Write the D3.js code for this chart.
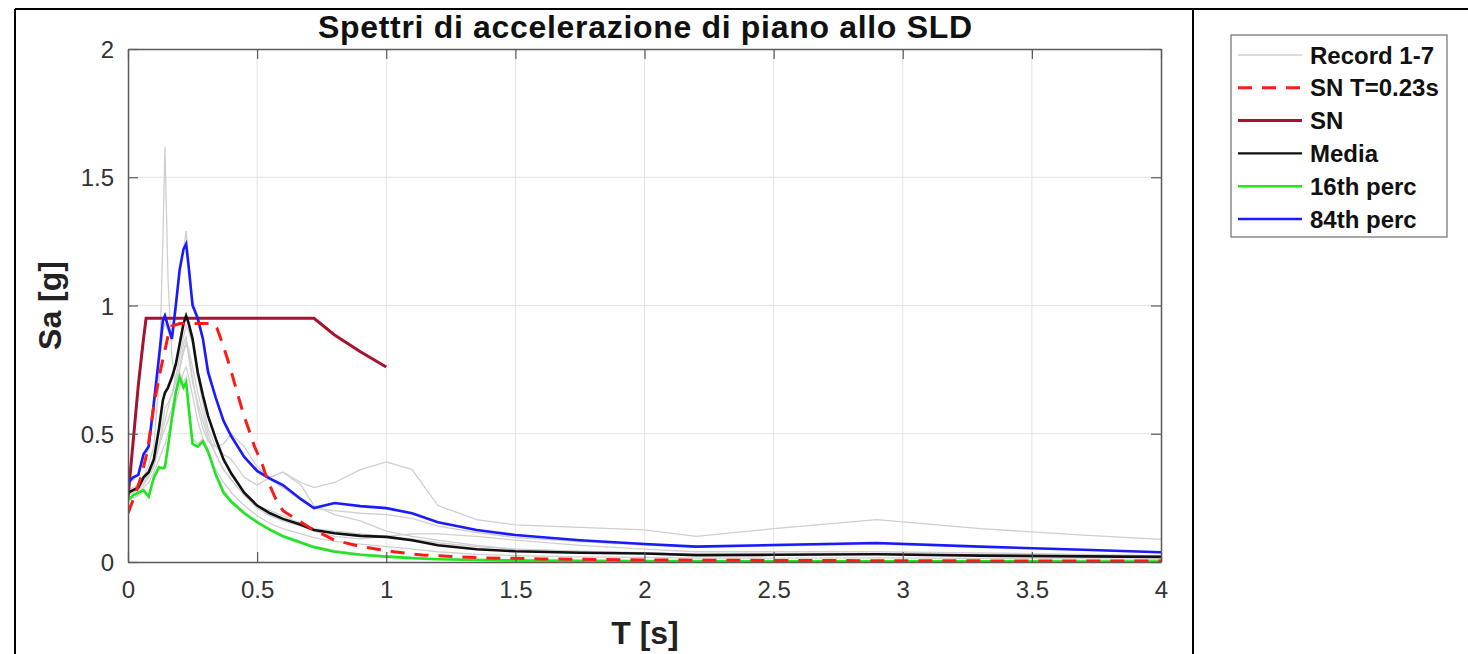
<!DOCTYPE html>
<html>
<head>
<meta charset="utf-8">
<script src="https://cdn.jsdelivr.net/npm/d3@7"></script>
<style>
  html, body { margin: 0; padding: 0; background: #fff; }
  svg { display: block; font-family: "Liberation Sans", Arial, Helvetica, sans-serif; }
</style>
</head>
<body>
<svg id="chart" width="1468" height="654"></svg>
<script>
// ---------------- DATA ----------------
const titleText = "Spettri di accelerazione di piano allo SLD";
const xLabel = "T [s]";
const yLabel = "Sa [g]";
const xTicks = [0, 0.5, 1, 1.5, 2, 2.5, 3, 3.5, 4];
const yTicks = [0, 0.5, 1, 1.5, 2];
const legendLabels = ["Record 1-7", "SN T=0.23s", "SN", "Media", "16th perc", "84th perc"];

// common period grid for records & statistics
const periods = [0, 0.02, 0.04, 0.06, 0.08, 0.10, 0.12, 0.135, 0.143, 0.155, 0.17, 0.185, 0.20, 0.215, 0.225, 0.235, 0.25, 0.27, 0.29, 0.31, 0.34, 0.37, 0.40, 0.45, 0.50, 0.55, 0.60, 0.67, 0.72, 0.80, 0.90, 1.00, 1.10, 1.20, 1.35, 1.50, 1.75, 2.00, 2.20, 2.50, 2.90, 3.30, 3.70, 4.00];

const record1 = [0.27,0.28,0.30,0.33,0.38,0.45,0.70,1.25,1.62,1.10,0.80,0.70,0.75,0.85,0.88,0.80,0.70,0.62,0.55,0.48,0.42,0.36,0.32,0.26,0.22,0.20,0.18,0.15,0.13,0.12,0.11,0.10,0.09,0.075,0.06,0.05,0.042,0.036,0.03,0.03,0.032,0.027,0.023,0.02];
const record2 = [0.30,0.32,0.34,0.40,0.44,0.58,0.76,0.90,0.93,0.90,0.86,0.98,1.12,1.22,1.29,1.18,1.02,0.96,0.88,0.76,0.64,0.55,0.49,0.41,0.35,0.32,0.29,0.24,0.21,0.20,0.19,0.185,0.17,0.14,0.115,0.095,0.08,0.066,0.058,0.062,0.07,0.058,0.046,0.036];
const record3 = [0.26,0.27,0.29,0.31,0.34,0.38,0.45,0.50,0.52,0.55,0.60,0.66,0.75,0.82,0.85,0.82,0.72,0.60,0.52,0.47,0.45,0.46,0.50,0.45,0.37,0.33,0.35,0.31,0.29,0.31,0.36,0.39,0.36,0.22,0.165,0.145,0.135,0.125,0.10,0.13,0.165,0.13,0.105,0.088];
const record4 = [0.24,0.25,0.26,0.27,0.26,0.32,0.36,0.37,0.38,0.46,0.58,0.68,0.74,0.70,0.72,0.62,0.48,0.46,0.48,0.44,0.35,0.28,0.24,0.195,0.16,0.13,0.105,0.08,0.062,0.045,0.032,0.025,0.018,0.013,0.01,0.008,0.006,0.005,0.005,0.004,0.004,0.004,0.003,0.003];
const record5 = [0.28,0.29,0.30,0.32,0.34,0.38,0.46,0.52,0.55,0.60,0.66,0.72,0.80,0.88,0.92,0.90,0.85,0.72,0.62,0.52,0.45,0.42,0.40,0.33,0.30,0.33,0.35,0.30,0.22,0.185,0.16,0.12,0.10,0.085,0.065,0.05,0.04,0.035,0.03,0.03,0.03,0.028,0.025,0.022];
const record6 = [0.26,0.27,0.28,0.30,0.33,0.37,0.45,0.55,0.60,0.62,0.65,0.70,0.76,0.82,0.86,0.83,0.76,0.66,0.58,0.50,0.42,0.36,0.32,0.26,0.21,0.18,0.16,0.14,0.12,0.10,0.09,0.10,0.11,0.11,0.10,0.085,0.065,0.05,0.04,0.04,0.04,0.035,0.03,0.025];
const record7 = [0.25,0.26,0.27,0.29,0.31,0.35,0.40,0.44,0.46,0.50,0.55,0.62,0.68,0.74,0.76,0.72,0.65,0.55,0.48,0.42,0.36,0.31,0.27,0.22,0.18,0.15,0.13,0.11,0.095,0.08,0.07,0.06,0.05,0.04,0.03,0.025,0.02,0.018,0.015,0.015,0.016,0.014,0.012,0.01];

const media = [0.27,0.28,0.29,0.33,0.35,0.40,0.52,0.63,0.66,0.68,0.72,0.77,0.85,0.93,0.96,0.93,0.87,0.74,0.65,0.57,0.48,0.40,0.345,0.27,0.22,0.19,0.168,0.145,0.125,0.112,0.102,0.098,0.085,0.065,0.05,0.042,0.036,0.033,0.027,0.028,0.030,0.025,0.022,0.02];
const perc84 = [0.31,0.33,0.34,0.42,0.45,0.62,0.80,0.94,0.96,0.92,0.87,1.00,1.14,1.22,1.24,1.15,1.00,0.95,0.87,0.74,0.64,0.55,0.49,0.41,0.355,0.325,0.30,0.245,0.21,0.23,0.218,0.21,0.19,0.155,0.125,0.105,0.085,0.07,0.06,0.066,0.074,0.06,0.048,0.038];
const perc16 = [0.24,0.26,0.27,0.28,0.255,0.33,0.37,0.365,0.37,0.45,0.56,0.66,0.72,0.68,0.70,0.60,0.46,0.45,0.47,0.43,0.34,0.27,0.235,0.19,0.155,0.125,0.10,0.075,0.058,0.04,0.028,0.021,0.015,0.011,0.008,0.006,0.005,0.004,0.004,0.003,0.003,0.003,0.002,0.002];

// SN T=0.23s (dashed)
const snT023Periods = [0, 0.03, 0.05, 0.075, 0.10, 0.12, 0.135, 0.155, 0.17, 0.20, 0.33, 0.345, 0.37, 0.395, 0.42, 0.446, 0.47, 0.49, 0.52, 0.54, 0.57, 0.60, 0.667, 0.71, 0.80, 0.90, 1.03, 1.14, 1.38, 1.60, 2.0, 2.5, 3.0, 3.5, 4.0];
const snT023Values  = [0.19, 0.27, 0.33, 0.43, 0.61, 0.72, 0.79, 0.88, 0.92, 0.93, 0.93, 0.91, 0.84, 0.76, 0.67, 0.58, 0.51, 0.45, 0.38, 0.32, 0.25, 0.20, 0.157, 0.13, 0.085, 0.06, 0.04, 0.027, 0.016, 0.012, 0.008, 0.006, 0.005, 0.004, 0.004];

// SN
const snPeriods = [0, 0.01, 0.02, 0.03, 0.04, 0.05, 0.06, 0.07, 0.72, 0.80, 0.90, 1.00];
const snValues  = [0.25, 0.36, 0.47, 0.58, 0.69, 0.78, 0.87, 0.95, 0.95, 0.885, 0.82, 0.76];

// ---------------- CHART ----------------
const svg = d3.select("#chart");
const x = d3.scaleLinear().domain([0, 4]).range([128, 1161]);
const y = d3.scaleLinear().domain([0, 2]).range([562, 49]);

// outer table borders
svg.append("line").attr("x1", 15).attr("x2", 1468).attr("y1", 9).attr("y2", 9).attr("stroke", "#000").attr("stroke-width", 2);
svg.append("line").attr("x1", 15).attr("x2", 15).attr("y1", 9).attr("y2", 654).attr("stroke", "#000").attr("stroke-width", 2);
svg.append("line").attr("x1", 1193).attr("x2", 1193).attr("y1", 9).attr("y2", 654).attr("stroke", "#000").attr("stroke-width", 2);

// grid
const grid = svg.append("g");
grid.selectAll(".gx").data(xTicks.slice(1, -1)).join("line")
  .attr("x1", d => x(d)).attr("x2", d => x(d)).attr("y1", y(0)).attr("y2", y(2))
  .attr("stroke", "#e3e3e3").attr("stroke-width", 1);
grid.selectAll(".gy").data(yTicks.slice(1, -1)).join("line")
  .attr("y1", d => y(d)).attr("y2", d => y(d)).attr("x1", x(0)).attr("x2", x(4))
  .attr("stroke", "#e3e3e3").attr("stroke-width", 1);

// series
const line = d3.line().x(d => x(d[0])).y(d => y(d[1]));
svg.append("defs").append("clipPath").attr("id", "clip")
  .append("rect").attr("x", x(0)).attr("y", y(2)).attr("width", x(4) - x(0)).attr("height", y(0) - y(2));
const plot = svg.append("g").attr("clip-path", "url(#clip)");

const records = [record1, record2, record3, record4, record5, record6, record7];
records.forEach(r => {
  plot.append("path").datum(periods.map((t, i) => [t, r[i]]))
    .attr("d", line).attr("fill", "none").attr("stroke", "#cfcfcf").attr("stroke-width", 1.3);
});

plot.append("path").datum(snPeriods.map((t, i) => [t, snValues[i]]))
  .attr("d", line).attr("fill", "none").attr("stroke", "#A2142F").attr("stroke-width", 3);

plot.append("path").datum(periods.map((t, i) => [t, perc16[i]]))
  .attr("d", line).attr("fill", "none").attr("stroke", "#1fe61f").attr("stroke-width", 2.6);
plot.append("path").datum(periods.map((t, i) => [t, perc84[i]]))
  .attr("d", line).attr("fill", "none").attr("stroke", "#1a1aff").attr("stroke-width", 2.6);
plot.append("path").datum(periods.map((t, i) => [t, media[i]]))
  .attr("d", line).attr("fill", "none").attr("stroke", "#111").attr("stroke-width", 2.6);

plot.append("path").datum(snT023Periods.map((t, i) => [t, snT023Values[i]]))
  .attr("d", line).attr("fill", "none").attr("stroke", "#ff1a1a").attr("stroke-width", 3)
  .attr("stroke-dasharray", "14,10");

// axes box
const axisColor = "#5a5a5a";
const axB = svg.append("g").attr("transform", `translate(0,${y(0)})`)
  .call(d3.axisBottom(x).tickValues(xTicks).tickFormat(d3.format("")).tickSizeInner(-10).tickSizeOuter(0).tickPadding(19));
const axT = svg.append("g").attr("transform", `translate(0,${y(2)})`)
  .call(d3.axisTop(x).tickValues(xTicks).tickFormat("").tickSizeInner(-10).tickSizeOuter(0));
const axL = svg.append("g").attr("transform", `translate(${x(0)},0)`)
  .call(d3.axisLeft(y).tickValues(yTicks).tickFormat(d3.format("")).tickSizeInner(-10).tickSizeOuter(0).tickPadding(14));
const axR = svg.append("g").attr("transform", `translate(${x(4)},0)`)
  .call(d3.axisRight(y).tickValues(yTicks).tickFormat("").tickSizeInner(-10).tickSizeOuter(0));
[axB, axT, axL, axR].forEach(a => {
  a.select(".domain").attr("stroke", axisColor).attr("stroke-width", 1.5);
  a.selectAll(".tick line").attr("stroke", axisColor).attr("stroke-width", 1.2);
  a.selectAll(".tick text").attr("fill", "#333").attr("font-size", 24)
    .attr("font-family", "'Liberation Sans', Arial, sans-serif");
});
axL.selectAll(".tick text").attr("dy", "0.36em");

// title & labels
svg.append("text").attr("x", 645).attr("y", 38).attr("text-anchor", "middle")
  .attr("font-size", 32).attr("font-weight", "bold").attr("fill", "#111")
  .attr("textLength", 654).attr("lengthAdjust", "spacing").text(titleText);
svg.append("text").attr("x", 645).attr("y", 644).attr("text-anchor", "middle")
  .attr("font-size", 32).attr("font-weight", "bold").attr("fill", "#222").text(xLabel);
svg.append("text").attr("transform", `translate(61,${(y(0) + y(2)) / 2}) rotate(-90)`)
  .attr("text-anchor", "middle").attr("font-size", 32).attr("font-weight", "bold").attr("fill", "#222").text(yLabel);

// legend
const lg = svg.append("g");
lg.append("rect").attr("x", 1231).attr("y", 35).attr("width", 216).attr("height", 202)
  .attr("fill", "#fff").attr("stroke", "#7a7a7a").attr("stroke-width", 1.3);
const legendStyles = [
  {color: "#cfcfcf", w: 1.3, dash: null},
  {color: "#ff1a1a", w: 3, dash: "14,10"},
  {color: "#A2142F", w: 3, dash: null},
  {color: "#111", w: 2.2, dash: null},
  {color: "#1fe61f", w: 2.6, dash: null},
  {color: "#1a1aff", w: 2.6, dash: null}
];
legendLabels.forEach((lab, i) => {
  const yy = 55 + i * 32.8;
  const st = legendStyles[i];
  lg.append("line").attr("x1", 1238).attr("x2", 1302).attr("y1", yy).attr("y2", yy)
    .attr("stroke", st.color).attr("stroke-width", st.w).attr("stroke-dasharray", st.dash);
  lg.append("text").attr("x", 1310).attr("y", yy).attr("dy", "0.36em")
    .attr("font-size", 24).attr("font-weight", "bold").attr("fill", "#111").text(lab);
});
</script>
</body>
</html>
